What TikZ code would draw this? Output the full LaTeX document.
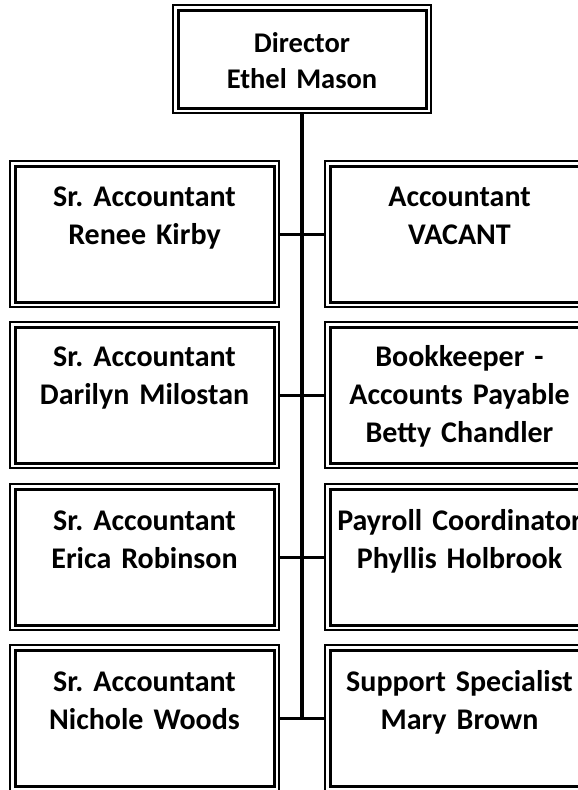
\documentclass[tikz,border=0pt]{standalone}
\usepackage{fontspec}
\setmainfont{Carlito}
\frenchspacing
\begin{document}
\begin{tikzpicture}[x=1pt,y=-1pt,
  outerbox/.style={draw, rectangle, line width=1.1pt, inner sep=0pt, minimum width=269pt, minimum height=146pt},
  innerbox/.style={draw, rectangle, line width=3pt, inner sep=0pt, minimum width=259pt, minimum height=136pt},
  topouter/.style={draw, rectangle, line width=1.1pt, inner sep=0pt, minimum width=258pt, minimum height=108pt},
  topinner/.style={draw, rectangle, line width=3pt, inner sep=0pt, minimum width=248pt, minimum height=98pt},
  txt/.style={anchor=base, inner sep=0pt, text width=269pt, align=center,
    font=\fontsize{30}{38.3}\selectfont\bfseries\frenchspacing},
  toptxt/.style={txt, font=\fontsize{28.5}{36.8}\selectfont\bfseries\frenchspacing},
  conn/.style={line width=3pt},
  trunk/.style={line width=3.5pt}]
\useasboundingbox (0,0) rectangle (578,790);
\clip (0,0) rectangle (578,790);
% top box
\node[topouter] (D) at (302,59) {};
\node[topinner] (Di) at (302,59) {};
\node[toptxt] (tD) at (302,52) {Director\\Ethel Mason};
% left column
\node[outerbox] (L1) at (144.5,234) {};
\node[innerbox] (L1i) at (144.5,234) {};
\node[outerbox] (L2) at (144.5,395) {};
\node[innerbox] (L2i) at (144.5,395) {};
\node[outerbox] (L3) at (144.5,557) {};
\node[innerbox] (L3i) at (144.5,557) {};
\node[outerbox] (L4) at (144.5,718) {};
\node[innerbox] (L4i) at (144.5,718) {};
% right column
\node[outerbox] (R1) at (459.5,234) {};
\node[innerbox] (R1i) at (459.5,234) {};
\node[outerbox] (R2) at (459.5,395) {};
\node[innerbox] (R2i) at (459.5,395) {};
\node[outerbox] (R3) at (459.5,557) {};
\node[innerbox] (R3i) at (459.5,557) {};
\node[outerbox] (R4) at (459.5,718) {};
\node[innerbox] (R4i) at (459.5,718) {};
% texts
\node[txt] (tL1) at (144.5,206) {Sr. Accountant\\Renee Kirby};
\node[txt] (tR1) at (459.5,206) {Accountant\\VACANT};
\node[txt] (tL2) at (144.5,366) {Sr. Accountant\\Darilyn Milostan};
\node[txt] (tR2) at (459.5,366) {Bookkeeper -\\Accounts Payable\\Betty Chandler};
\node[txt] (tL3) at (144.5,530) {Sr. Accountant\\Erica Robinson};
\node[txt] (tR3) at (459.5,530) {Payroll Coordinator\\Phyllis Holbrook};
\node[txt] (tL4) at (144.5,691) {Sr. Accountant\\Nichole Woods};
\node[txt] (tR4) at (459.5,691) {Support Specialist\\Mary Brown};
% connectors
\coordinate (jEnd) at (D.south |- L4.east);
\draw[trunk] (D.south) -- (jEnd);
\draw[conn] (L1.east) -- (R1.west);
\draw[conn] (L2.east) -- (R2.west);
\draw[conn] (L3.east) -- (R3.west);
\draw[conn] (L4.east) -- (R4.west);
\end{tikzpicture}
\end{document}
